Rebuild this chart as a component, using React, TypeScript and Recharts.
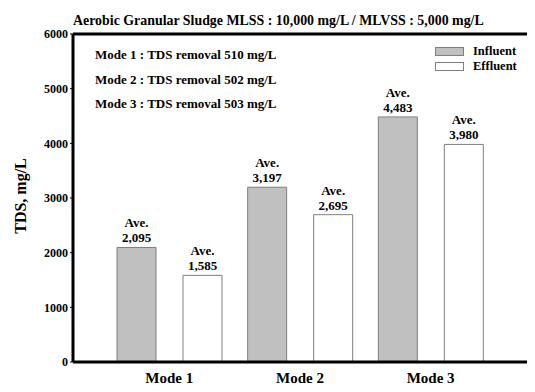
import React from 'react';
import { BarChart, Bar, XAxis, YAxis, ReferenceLine, LabelList } from 'recharts';

const modes = ['Mode 1', 'Mode 2', 'Mode 3'];
const influent = [2095, 3197, 4483];
const effluent = [1585, 2695, 3980];
const removal = [510, 502, 503];
const yTicks = [0, 1000, 2000, 3000, 4000, 5000, 6000];

const data = modes.map((m, i) => ({ mode: m, influent: influent[i], effluent: effluent[i] }));

const serif = '"Liberation Serif", "Times New Roman", serif';
const barStroke = '#7f7f7f';
const influentFill = '#c0c0c0';

const AveLabel = (props: any) => {
  const { x, y, width, value } = props;
  const cx = Number(x) + Number(width) / 2;
  return (
    <g fontFamily={serif} fontWeight="bold" fontSize={13} fill="#000">
      <text x={cx} y={Number(y) - 20} textAnchor="middle">Ave.</text>
      <text x={cx} y={Number(y) - 5} textAnchor="middle">{Number(value).toLocaleString('en-US')}</text>
    </g>
  );
};

const App: React.FC = () => {
  return (
    <div style={{ position: 'absolute', left: 0, top: 0, width: 535, height: 392, background: '#fff', fontFamily: serif, fontWeight: 'bold', color: '#000' }}>
      <BarChart
        width={535}
        height={392}
        data={data}
        margin={{ top: 34, right: 8, bottom: 0, left: 23 }}
        barSize={39}
        barGap={27}
      >
        <XAxis
          dataKey="mode"
          height={30}
          padding={{ left: 31, right: 31 }}
          tickLine={false}
          tickSize={0}
          tickMargin={10}
          axisLine={{ stroke: '#000', strokeWidth: 3 }}
          tick={{ fill: '#000', fontSize: 15, fontFamily: serif, fontWeight: 'bold' }}
        />
        <YAxis
          width={50}
          domain={[0, 6000]}
          ticks={yTicks}
          interval={0}
          tickSize={3}
          tickMargin={2}
          axisLine={{ stroke: '#000', strokeWidth: 3 }}
          tickLine={{ stroke: '#000' }}
          tick={{ fill: '#000', fontSize: 12, fontFamily: serif, fontWeight: 'bold' }}
        />
        <YAxis
          yAxisId="right"
          orientation="right"
          width={0}
          domain={[0, 6000]}
          tick={false}
          tickLine={false}
          axisLine={{ stroke: '#000', strokeWidth: 3 }}
        />
        <ReferenceLine y={6000} stroke="#000" strokeWidth={3} />
        <Bar dataKey="influent" fill={influentFill} stroke={barStroke} strokeWidth={1} isAnimationActive={false}>
          <LabelList dataKey="influent" content={AveLabel} />
        </Bar>
        <Bar dataKey="effluent" fill="#fff" stroke={barStroke} strokeWidth={1} isAnimationActive={false}>
          <LabelList dataKey="effluent" content={AveLabel} />
        </Bar>
      </BarChart>

      <div style={{ position: 'absolute', left: 73, top: 14, fontSize: 13.9, lineHeight: '13px', whiteSpace: 'nowrap' }}>
        Aerobic Granular Sludge MLSS : 10,000 mg/L / MLVSS : 5,000 mg/L
      </div>

      {modes.map((m, i) => (
        <div key={m} style={{ position: 'absolute', left: 95, top: 48 + i * 24.5, fontSize: 13, lineHeight: '13px', whiteSpace: 'nowrap' }}>
          {m} : TDS removal {removal[i]} mg/L
        </div>
      ))}

      {[
        { name: 'Influent', fill: influentFill },
        { name: 'Effluent', fill: '#fff' },
      ].map((item, i) => (
        <div key={item.name} style={{ position: 'absolute', left: 435, top: 45 + i * 15, height: 13, display: 'flex', alignItems: 'center', whiteSpace: 'nowrap' }}>
          <div style={{ width: 27, height: 7, background: item.fill, border: `1px solid ${barStroke}` }} />
          <span style={{ marginLeft: 9, fontSize: 12.5, lineHeight: '13px' }}>{item.name}</span>
        </div>
      ))}

      <div style={{ position: 'absolute', left: 21, top: 196, transform: 'translate(-50%, -50%) rotate(-90deg)', fontSize: 16, lineHeight: '16px', whiteSpace: 'nowrap' }}>
        TDS, mg/L
      </div>
    </div>
  );
};

export default App;
